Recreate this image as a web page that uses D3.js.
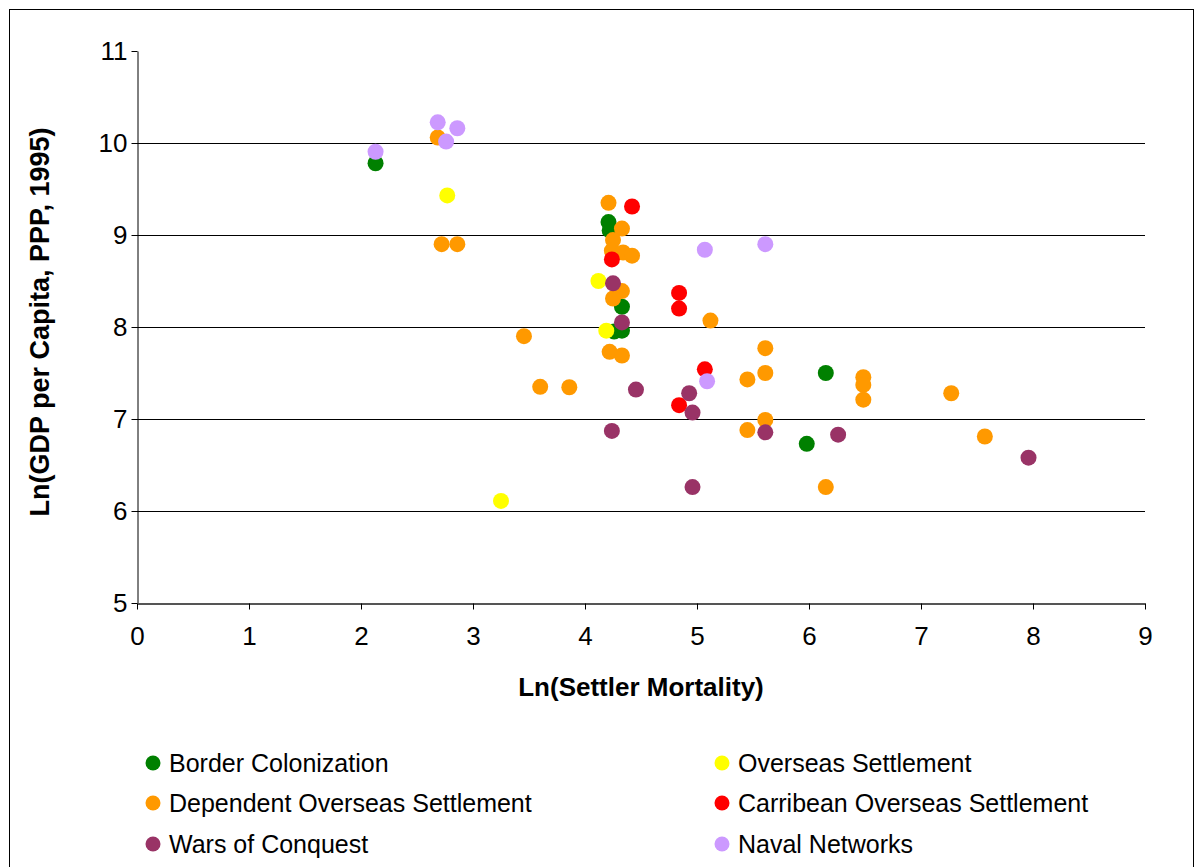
<!DOCTYPE html>
<html>
<head>
<meta charset="utf-8">
<script src="https://cdn.jsdelivr.net/npm/d3@7"></script>
<style>
  html, body { margin: 0; padding: 0; background: #fff; }
  svg { display: block; font-family: "Liberation Sans", Arial, sans-serif; }
</style>
</head>
<body>
<svg id="chart" width="1195" height="867"></svg>
<script>
// ---- Data ----
const seriesNames = [
  "Border Colonization",
  "Overseas Settlement",
  "Dependent Overseas Settlement",
  "Carribean Overseas Settlement",
  "Wars of Conquest",
  "Naval Networks"
];
const seriesColors = ["#008000", "#FFFF00", "#FF9900", "#FF0000", "#993366", "#CC99FF"];

const borderColonization = [
  [2.13, 9.78], [4.21, 9.14], [4.22, 9.05], [4.33, 8.22], [4.33, 7.96],
  [4.26, 7.95], [6.15, 7.50], [5.98, 6.73]
];
const overseasSettlement = [
  [2.77, 9.43], [4.12, 8.50], [4.19, 7.96], [3.25, 6.11]
];
const dependentOverseas = [
  [2.685, 10.06], [2.72, 8.90], [2.86, 8.90], [4.21, 9.35], [4.33, 9.07],
  [4.25, 8.945], [4.24, 8.83], [4.34, 8.81], [4.42, 8.775], [4.33, 8.39],
  [4.25, 8.31], [4.22, 7.73], [4.33, 7.69], [3.455, 7.90], [3.60, 7.35],
  [3.86, 7.345], [5.12, 8.07], [5.61, 7.77], [5.61, 7.50], [5.45, 7.43],
  [5.61, 6.99], [5.45, 6.88], [6.485, 7.455], [6.485, 7.37], [6.485, 7.21],
  [7.27, 7.28], [7.57, 6.81], [6.15, 6.26]
];
const caribbeanOverseas = [
  [4.42, 9.31], [4.24, 8.735], [4.84, 8.37], [4.84, 8.20], [5.07, 7.54], [4.84, 7.15]
];
const warsOfConquest = [
  [4.25, 8.475], [4.33, 8.05], [4.455, 7.32], [4.93, 7.28], [4.96, 7.07],
  [4.24, 6.87], [5.61, 6.855], [4.96, 6.26], [6.26, 6.83], [7.96, 6.58]
];
const navalNetworks = [
  [2.13, 9.905], [2.685, 10.225], [2.86, 10.16], [2.76, 10.015],
  [5.07, 8.84], [5.61, 8.90], [5.09, 7.41]
];
const seriesValues = [borderColonization, overseasSettlement, dependentOverseas,
                      caribbeanOverseas, warsOfConquest, navalNetworks];

const xTicks = [0, 1, 2, 3, 4, 5, 6, 7, 8, 9];
const yTicks = [5, 6, 7, 8, 9, 10, 11];
const xTitle = "Ln(Settler Mortality)";
const yTitle = "Ln(GDP per Capita, PPP, 1995)";

// ---- Drawing ----
const svg = d3.select("#chart");
const W = 1195, H = 867;
const plot = { left: 137, right: 1145, top: 51, bottom: 603 };

// outer frame
svg.append("rect")
  .attr("x", 9.5).attr("y", 9.5)
  .attr("width", W - 11).attr("height", H)
  .attr("fill", "#fff").attr("stroke", "#000").attr("stroke-width", 1);

const x = d3.scaleLinear().domain([0, 9]).range([plot.left, plot.right]);
const y = d3.scaleLinear().domain([5, 11]).range([plot.bottom, plot.top]);

// gridlines
svg.append("g")
  .selectAll("line")
  .data(yTicks.filter(v => v > 5 && v < 11))
  .join("line")
  .attr("x1", plot.left).attr("x2", plot.right)
  .attr("y1", d => Math.round(y(d)) + 0.5).attr("y2", d => Math.round(y(d)) + 0.5)
  .attr("stroke", "#000").attr("stroke-width", 1);

// y axis
const yAxis = svg.append("g")
  .attr("transform", `translate(${plot.left + 0.5},0)`)
  .call(d3.axisLeft(y).tickValues(yTicks).tickSize(6).tickSizeOuter(0).tickFormat(d3.format("d")));
yAxis.select(".domain").attr("stroke", "#000");
yAxis.selectAll(".tick line").attr("stroke", "#000");
yAxis.selectAll(".tick text")
  .attr("x", -10)
  .attr("font-size", "26px")
  .attr("font-family", "Liberation Sans, Arial, sans-serif")
  .attr("fill", "#000");

// x axis
const xAxis = svg.append("g")
  .attr("transform", `translate(0,${plot.bottom + 0.5})`)
  .call(d3.axisBottom(x).tickValues(xTicks).tickSize(6).tickSizeOuter(0).tickFormat(d3.format("d")));
xAxis.select(".domain").attr("stroke", "#555").attr("stroke-width", 2);
xAxis.selectAll(".tick line").attr("stroke", "#000");
xAxis.selectAll(".tick text")
  .attr("y", 23)
  .attr("font-size", "26px")
  .attr("font-family", "Liberation Sans, Arial, sans-serif")
  .attr("fill", "#000");

// axis titles
svg.append("text")
  .attr("x", 641).attr("y", 696)
  .attr("text-anchor", "middle")
  .attr("font-size", "26px").attr("font-weight", "bold")
  .text(xTitle);
svg.append("text")
  .attr("transform", `translate(49,${(plot.top + plot.bottom) / 2 - 5}) rotate(-90)`)
  .attr("text-anchor", "middle")
  .attr("font-size", "27px").attr("font-weight", "bold")
  .text(yTitle);

// points
seriesValues.forEach((vals, i) => {
  svg.append("g")
    .selectAll("circle")
    .data(vals)
    .join("circle")
    .attr("cx", d => x(d[0]))
    .attr("cy", d => y(d[1]))
    .attr("r", 8)
    .attr("fill", seriesColors[i]);
});

// legend
const legendPos = [
  [153, 763], [722, 763],
  [153, 803], [722, 803],
  [153, 844], [722, 844]
];
const lg = svg.append("g");
seriesNames.forEach((name, i) => {
  const [lx, ly] = legendPos[i];
  lg.append("circle").attr("cx", lx).attr("cy", ly).attr("r", 7.5).attr("fill", seriesColors[i]);
  lg.append("text")
    .attr("x", lx + 16).attr("y", ly + 9)
    .attr("font-size", "25px")
    .attr("fill", "#000")
    .text(name);
});
</script>
</body>
</html>
